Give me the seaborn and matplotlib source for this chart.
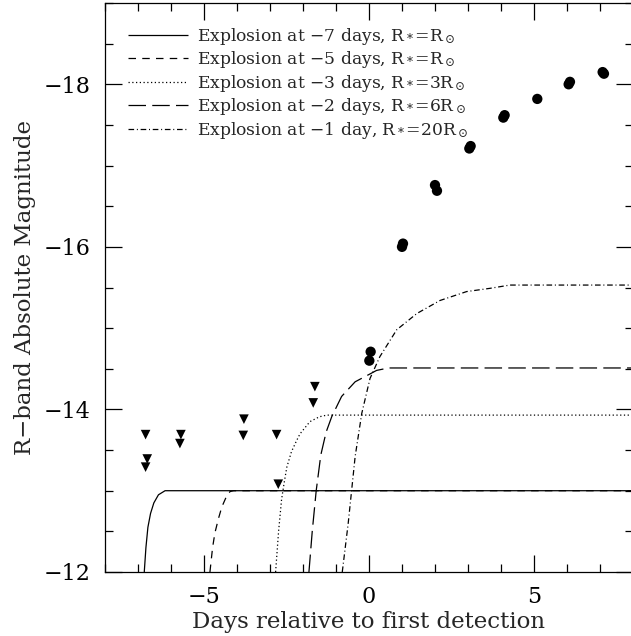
import numpy as np
import pandas as pd
import matplotlib
matplotlib.use('Agg')
import matplotlib.pyplot as plt
import seaborn as sns
from matplotlib.ticker import MultipleLocator

# ---- data ----
det_days = [0.01, 0.05, 1.00, 1.03, 2.00, 2.06, 3.04, 3.08, 4.07, 4.11, 5.10, 6.05, 6.09, 7.08, 7.12]
det_mag = [-14.60, -14.71, -16.00, -16.04, -16.76, -16.69, -17.21, -17.24, -17.59, -17.62,
           -17.82, -18.00, -18.03, -18.15, -18.13]

lim_days = [-6.77, -6.72, -6.77, -5.70, -5.73, -3.79, -3.81, -2.80, -2.75, -1.69, -1.64]
lim_mag = [-13.69, -13.39, -13.29, -13.69, -13.58, -13.88, -13.68, -13.69, -13.08, -14.08, -14.28]

m7_days = [-6.81, -6.76, -6.70, -6.62, -6.52, -6.38, -6.18, 8.0]
m7_mag = [-12.0, -12.3, -12.55, -12.72, -12.85, -12.95, -13.0, -13.0]

m5_days = [-4.82, -4.74, -4.67, -4.56, -4.46, -4.33, -4.21, -4.10, 8.0]
m5_mag = [-12.0, -12.3, -12.48, -12.66, -12.80, -12.92, -12.99, -13.0, -13.0]

m3_days = [-2.83, -2.74, -2.65, -2.57, -2.49, -2.35, -2.19, -2.09, -1.79, -1.50, -1.28, 8.0]
m3_mag = [-12.0, -12.5, -12.89, -13.10, -13.29, -13.48, -13.62, -13.70, -13.85, -13.91, -13.93, -13.93]

m2_days = [-1.82, -1.72, -1.60, -1.46, -1.30, -1.13, -0.83, -0.42, 0.0, 0.23, 0.59, 8.0]
m2_mag = [-12.0, -12.5, -13.0, -13.44, -13.72, -13.91, -14.16, -14.34, -14.43, -14.48, -14.51, -14.51]

m1_days = [-0.81, -0.63, -0.42, -0.22, 0.03, 0.33, 0.84, 1.45, 2.15, 2.96, 3.67, 4.27, 8.0]
m1_mag = [-12.0, -12.60, -13.42, -13.95, -14.38, -14.65, -14.98, -15.18, -15.34, -15.45, -15.49, -15.53, -15.53]

labels = [
    'Explosion at \u22127 days, R$_*$=R$_\\odot$',
    'Explosion at \u22125 days, R$_*$=R$_\\odot$',
    'Explosion at \u22123 days, R$_*$=3R$_\\odot$',
    'Explosion at \u22122 days, R$_*$=6R$_\\odot$',
    'Explosion at \u22121 day, R$_*$=20R$_\\odot$',
]

x_label = 'Days relative to first detection'
y_label = 'R\u2212band Absolute Magnitude'

# ---- style ----
sns.set_style('ticks')
plt.rcParams['font.family'] = ['DejaVu Serif']
plt.rcParams['mathtext.fontset'] = 'dejavuserif'

fig = plt.figure(figsize=(6.31, 6.36), dpi=100)
ax = fig.add_axes([105 / 631, 64 / 636, 528 / 631, 569 / 636])

styles = [
    (0, ()),
    (0, (6, 5)),
    (0, (1, 2)),
    (0, (14, 5)),
    (0, (4.5, 2.2, 0.8, 2.2)),
]
models = [(m7_days, m7_mag), (m5_days, m5_mag), (m3_days, m3_mag),
          (m2_days, m2_mag), (m1_days, m1_mag)]

for (xd, yd), ls, lab in zip(models, styles, labels):
    df = pd.DataFrame({'day': xd, 'mag': yd})
    sns.lineplot(data=df, x='day', y='mag', ax=ax, color='black', linewidth=0.9,
                 linestyle=ls, label=lab, estimator=None, sort=False)

sns.scatterplot(x=det_days, y=det_mag, ax=ax, marker='o', s=55, color='black',
                edgecolor='none', zorder=5)
sns.scatterplot(x=lim_days, y=lim_mag, ax=ax, marker='v', s=48, color='black',
                edgecolor='none', zorder=5)

ax.set_xlim(-8, 8)
ax.set_ylim(-12, -19)

ax.xaxis.set_major_locator(MultipleLocator(5))
ax.xaxis.set_minor_locator(MultipleLocator(1))
ax.yaxis.set_major_locator(MultipleLocator(2))
ax.yaxis.set_minor_locator(MultipleLocator(0.5))
ax.tick_params(which='both', direction='in', top=True, right=True, width=0.9,
               colors='black', labelsize=16)
ax.tick_params(which='major', length=12)
ax.tick_params(which='minor', length=6)
ax.tick_params(axis='y', which='major', pad=10.5)
ax.tick_params(axis='x', which='major', pad=10)
for sp in ax.spines.values():
    sp.set_linewidth(0.9)
    sp.set_color('black')

ax.set_yticks([-12, -14, -16, -18])
ax.set_xlabel(x_label, fontsize=16.5, labelpad=2)
ax.set_ylabel(y_label, fontsize=16.5, labelpad=5)

leg = ax.legend(loc='upper left', bbox_to_anchor=(0.044, 0.960), frameon=False,
                fontsize=12.3, handlelength=3.5, handletextpad=0.55, labelspacing=0.15,
                borderpad=0, borderaxespad=0)

fig.savefig('out.png', dpi=100)
